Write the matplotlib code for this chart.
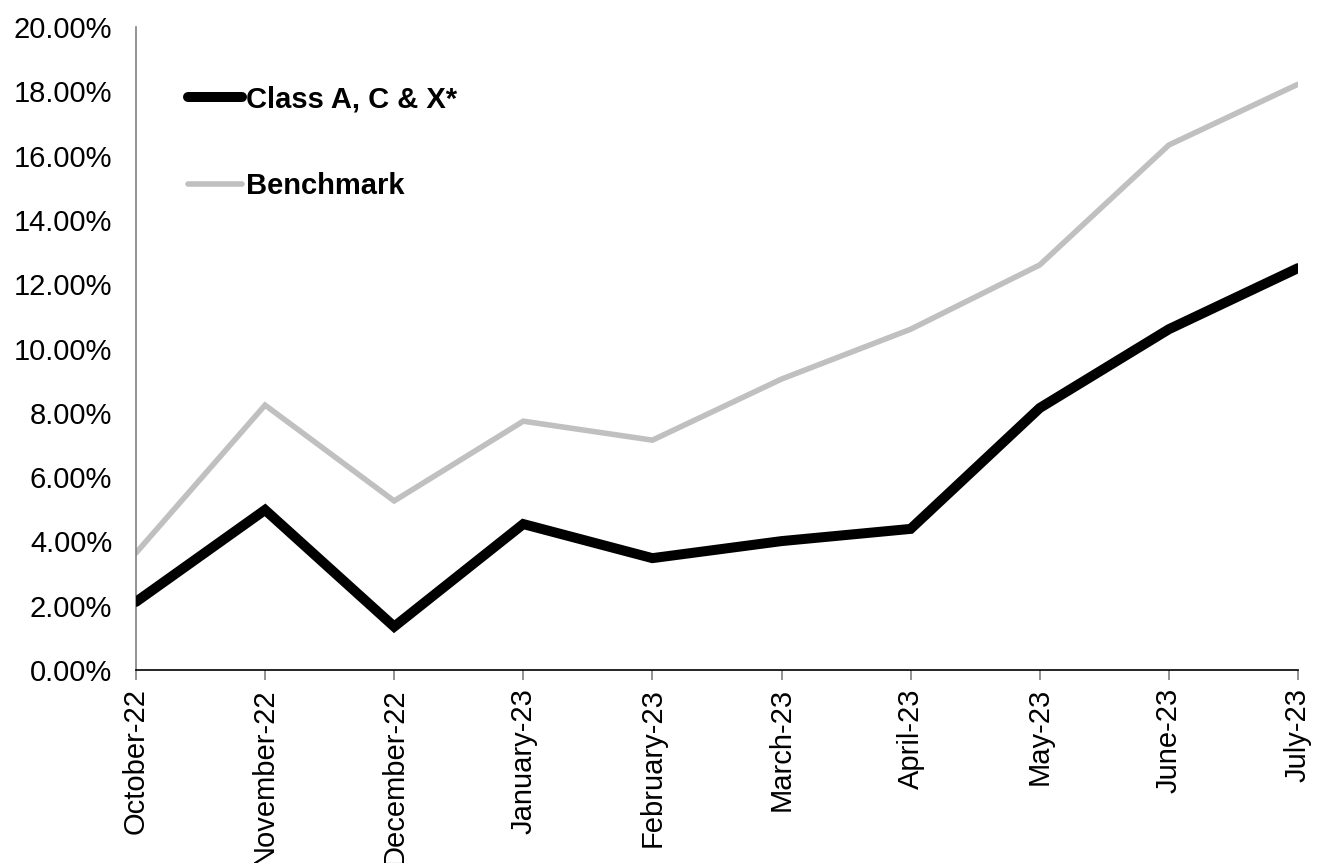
import numpy as np
import matplotlib.pyplot as plt
from matplotlib.ticker import PercentFormatter

# data
months = ['October-22', 'November-22', 'December-22', 'January-23', 'February-23',
          'March-23', 'April-23', 'May-23', 'June-23', 'July-23']
class_acx = [2.12, 4.98, 1.35, 4.54, 3.48, 4.01, 4.39, 8.15, 10.60, 12.50]
benchmark = [3.64, 8.24, 5.26, 7.74, 7.15, 9.05, 10.60, 12.60, 16.33, 18.22]

plt.rcParams['font.family'] = ['Liberation Sans', 'DejaVu Sans']

fig = plt.figure(figsize=(13.25, 8.63), dpi=100)
ax = fig.add_axes([0.1026, 0.2236, 0.877, 0.7451])

x = np.arange(len(months))
ax.plot(x, benchmark, color='#c0c0c0', lw=4.0, solid_capstyle='round',
        solid_joinstyle='miter', label='Benchmark', zorder=2)
ax.plot(x, class_acx, color='black', lw=7.2, solid_capstyle='round',
        solid_joinstyle='miter', label='Class A, C & X*', zorder=3)

ax.set_xlim(0, len(months) - 1)
ax.set_ylim(0, 20)
ax.set_yticks(np.arange(0, 21, 2))
ax.yaxis.set_major_formatter(PercentFormatter(decimals=2))
ax.set_xticks(x)
ax.set_xticklabels(months, rotation=90, va='top', ha='center')

for s in ['top', 'right']:
    ax.spines[s].set_visible(False)
ax.spines['left'].set_color('#808080')
ax.spines['left'].set_linewidth(1.2)
ax.spines['bottom'].set_color('black')
ax.spines['bottom'].set_linewidth(1.2)
ax.tick_params(axis='y', length=0, pad=17, labelsize=21)
ax.tick_params(axis='x', length=7, width=1.2, color='#808080', pad=6, labelsize=21)

# legend, class line first
h, l = ax.get_legend_handles_labels()
leg = ax.legend(h[::-1], l[::-1], loc='upper left', bbox_to_anchor=(0.022, 0.95),
                frameon=False, handlelength=1.85, handletextpad=0.15,
                labelspacing=2.0, prop={'weight': 'bold', 'size': 21})

fig.savefig('out.png', dpi=100)
